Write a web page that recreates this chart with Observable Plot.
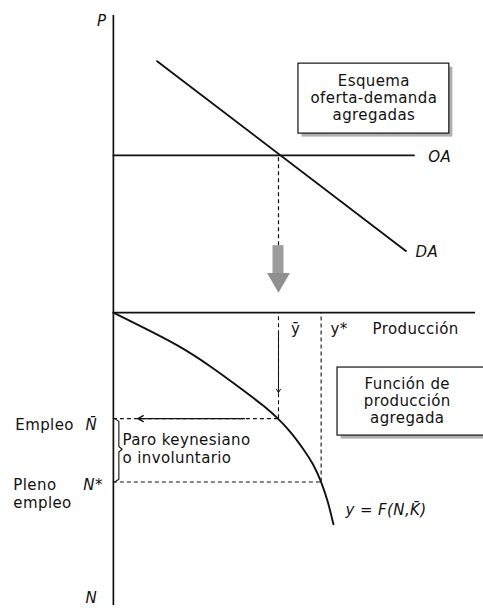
<!DOCTYPE html>
<html><head><meta charset="utf-8">
<script src="https://cdn.jsdelivr.net/npm/d3@7"></script>
<script src="https://cdn.jsdelivr.net/npm/@observablehq/plot@0.6"></script>
<style>
html,body{margin:0;padding:0;background:#fff;}
#chart{width:483px;height:613px;}
#chart svg text{letter-spacing:0.4px;}
</style>
</head><body><div id="chart"></div>
<script>
// ---- Diagram values (abstract units: output to the right, price up, employment down) ----
const pEq = 5.75;        // equilibrium price level (OA)
const yBar = 6.04;       // keynesian output ȳ
const yStar = 7.6;       // full-employment output y*
const nBar = 3.88;       // employment N̄
const nStar = 6.2;       // full employment N*
const pTop = 10.87;      // top of P axis
const nBottom = 10.72;   // bottom of N axis
const outMax = 13.25;    // end of production axis

const supplyQ = [0, 11];
const supplyP = [pEq, pEq];
const demandQ = [1.6, 10.7];
const demandP = [9.2, 2.25];

// production function y = F(N, K̄) (output, employment)
const prodOutput = [0, 1.1, 2.34, 3.55, 4.76, 5.5, 6.02, 6.5, 6.95, 7.3, 7.6, 7.85, 8.05];
const prodEmploy = [0, 0.55, 1.2, 1.97, 2.85, 3.42, 3.88, 4.4, 5.0, 5.55, 6.2, 6.95, 7.75];

// gray transition arrow (upper -> lower panel)
const bigArrowTop = 2.45, bigArrowHead = 1.21;

// brace marking keynesian unemployment
const braceX = [0.05, 0.2, 0.2, 0.32, 0.2, 0.2, 0.05];
const braceN = [nBar, nBar + 0.1, 4.9, 5.0, 5.1, nStar - 0.1, nStar];

// text boxes
const boxes = [
  {x1: 6.77, x2: 12.29, y1: 9.11, y2: 6.55, lines: ["Esquema", "oferta-demanda", "agregadas"]},
  {x1: 8.2, x2: 13.6, y1: -2.01, y2: -4.5, lines: ["Función de", "producción", "agregada"]}
];

// labels
const labels = [
  {t: "P", x: -0.6, y: 10.68, it: true},
  {t: "OA", x: 11.52, y: 5.67, it: true},
  {t: "DA", x: 11.05, y: 2.2, it: true},
  {t: "ȳ", x: 6.5, y: -0.59, it: false},
  {t: "y*", x: 7.94, y: -0.59, it: false},
  {t: "Producción", x: 9.48, y: -0.59, it: false},
  {t: "Empleo", x: -3.59, y: -4.13, it: false},
  {t: "N\u0304", x: -1.02, y: -4.13, it: true},
  {t: "Paro keynesiano", x: 0.33, y: -4.68, it: false},
  {t: "o involuntario", x: 0.33, y: -5.31, it: false},
  {t: "Pleno", x: -3.66, y: -6.33, it: false},
  {t: "empleo", x: -3.66, y: -6.99, it: false},
  {t: "N*", x: -1.1, y: -6.33, it: true},
  {t: "y = F(N,K\u0304)", x: 8.49, y: -7.24, it: true},
  {t: "N", x: -1.02, y: -10.46, it: true}
];

// ---- build tables ----
const prod = prodOutput.map((q, i) => ({x: q, y: -prodEmploy[i]}));
const supply = supplyQ.map((q, i) => ({x: q, y: supplyP[i]}));
const demand = demandQ.map((q, i) => ({x: q, y: demandP[i]}));
const brace = braceX.map((q, i) => ({x: q, y: -braceN[i]}));
const boxLines = boxes.flatMap(b => b.lines.map((t, j) => ({t, x: (b.x1 + Math.min(b.x2, 13.3)) / 2, y: (b.y1 + b.y2) / 2 + (1 - j) * 0.62})));
const font = "DejaVu Sans, Verdana, sans-serif";
const sh = 0.13;

const plot = Plot.plot({
  width: 483, height: 613,
  margin: 0,
  x: {domain: [-4.13, 13.54], axis: null},
  y: {domain: [-11.01, 11.42], axis: null},
  style: {background: "#fff", fontFamily: font},
  marks: [
    // axes
    Plot.ruleX([0], {y1: -nBottom, y2: pTop, stroke: "#111", strokeWidth: 1.7}),
    Plot.ruleY([0], {x1: 0, x2: outMax, stroke: "#111", strokeWidth: 1.7}),
    // supply and demand
    Plot.line(supply, {x: "x", y: "y", stroke: "#111", strokeWidth: 1.7}),
    Plot.line(demand, {x: "x", y: "y", stroke: "#111", strokeWidth: 1.9}),
    // dashed drop from equilibrium
    Plot.ruleX([yBar], {y1: bigArrowTop, y2: pEq, stroke: "#111", strokeWidth: 1.2, strokeDasharray: "4,3"}),
    // big gray arrow
    Plot.rect([{}], {x1: yBar - 0.2, x2: yBar + 0.2, y1: bigArrowHead + 0.2, y2: bigArrowTop, fill: "#9c9c9c"}),
    Plot.dot([{}], {x: () => yBar, y: () => bigArrowHead, symbol: "triangle", r: 8.5, rotate: 180, fill: "#8f8f8f", stroke: "none"}),
    // production function
    Plot.line(prod, {x: "x", y: "y", curve: "natural", stroke: "#111", strokeWidth: 1.9}),
    // dashed guides lower panel
    Plot.ruleX([yBar], {y1: -nBar, y2: 0, stroke: "#111", strokeWidth: 1.1, strokeDasharray: "4,3"}),
    Plot.ruleX([yStar], {y1: -nStar, y2: 0, stroke: "#111", strokeWidth: 1.1, strokeDasharray: "4,3"}),
    Plot.ruleY([-nBar], {x1: 0, x2: yBar, stroke: "#111", strokeWidth: 1.1, strokeDasharray: "4,3"}),
    Plot.ruleY([-nStar], {x1: 0, x2: yStar, stroke: "#111", strokeWidth: 1.1, strokeDasharray: "4,3"}),
    // solid arrows on dashed guides
    Plot.arrow([{}], {x1: () => yBar, x2: () => yBar, y1: -0.75, y2: -2.93, stroke: "#111", strokeWidth: 1.0, headLength: 6}),
    Plot.arrow([{}], {x1: () => 4.8, x2: () => 0.9, y1: -nBar, y2: -nBar, stroke: "#111", strokeWidth: 1.3, headLength: 7}),
    // brace
    Plot.line(brace, {x: "x", y: "y", stroke: "#111", strokeWidth: 1.1, curve: "linear"}),
    // boxes with shadow
    Plot.rect(boxes, {x1: d => d.x1 + sh, x2: d => d.x2 + sh, y1: d => d.y1 - sh, y2: d => d.y2 - sh, fill: "#b0b0b0"}),
    Plot.rect(boxes, {x1: "x1", x2: "x2", y1: "y1", y2: "y2", fill: "#fff", stroke: "#111", strokeWidth: 1.2}),
    Plot.text(boxLines, {x: "x", y: "y", text: "t", fontSize: 15, fill: "#111", textAnchor: "middle"}),
    // labels
    Plot.text(labels.filter(d => !d.it), {x: "x", y: "y", text: "t", fontSize: 15, fill: "#111", textAnchor: "start"}),
    Plot.text(labels.filter(d => d.it), {x: "x", y: "y", text: "t", fontSize: 15, fontStyle: "italic", fill: "#111", textAnchor: "start"})
  ]
});
document.getElementById("chart").appendChild(plot);
</script>
</body></html>
